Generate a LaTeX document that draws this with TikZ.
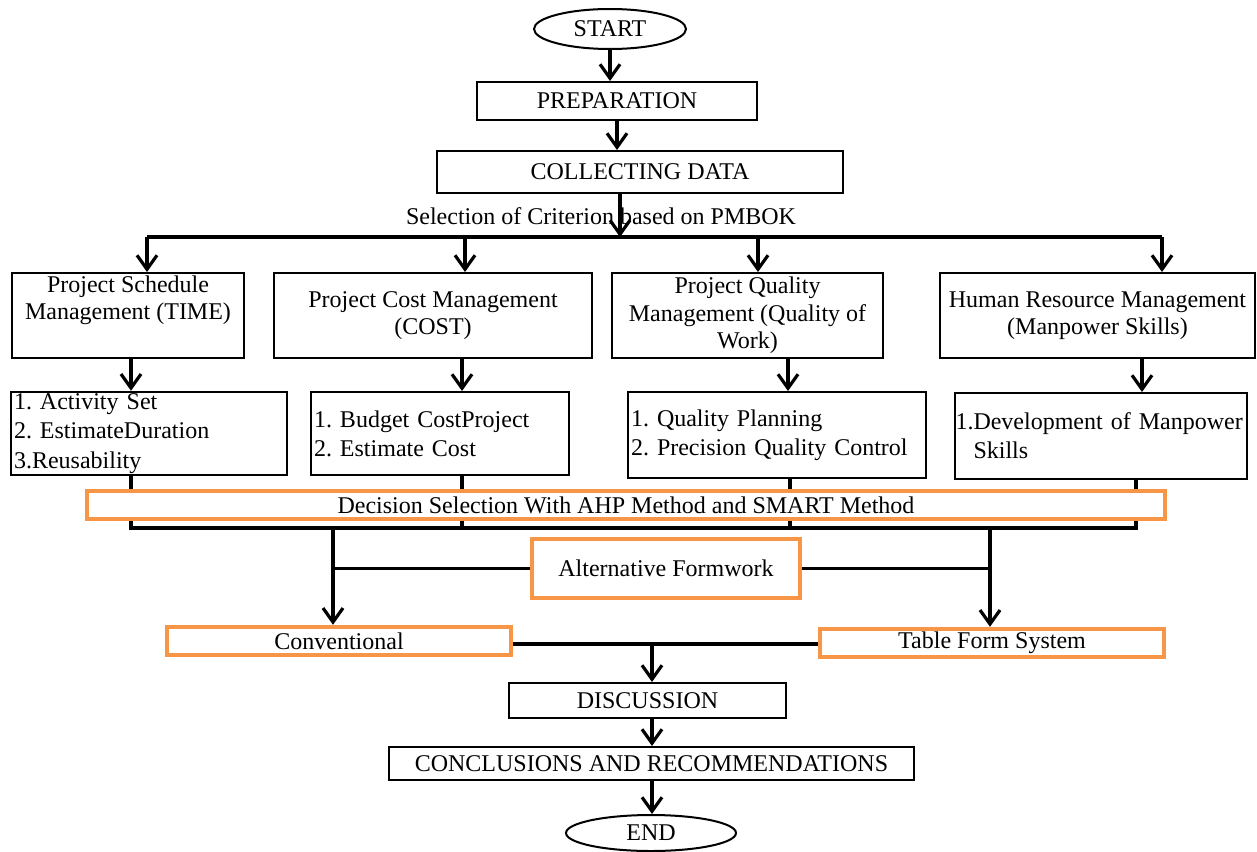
\documentclass[tikz,border=0pt]{standalone}
\usepackage{fontspec}
\setmainfont{Liberation Serif}
\usetikzlibrary{arrows.meta,shapes.geometric,calc}
\definecolor{orng}{HTML}{F79646}
\frenchspacing
\hyphenpenalty=10000
\exhyphenpenalty=10000
\begin{document}
\begin{tikzpicture}[x=0.5pt,y=-0.5pt,
  txt/.style={font=\fontsize{12}{13.8}\selectfont},
  subtxt/.style={font=\fontsize{12}{14.6}\selectfont},
  box/.style={txt,draw,line width=1pt,rectangle,inner sep=1pt,align=center},
  subbox/.style={subtxt,draw,line width=1pt,rectangle,inner xsep=1.5pt,inner ysep=1pt,align=left},
  obox/.style={txt,draw=orng,line width=2.2pt,fill=white,rectangle,inner sep=1pt,align=center},
  oval/.style={txt,draw,line width=1pt,ellipse,inner sep=0pt},
  conn/.style={line width=1.6pt},
  arr/.style={conn,-{Straight Barb[length=7pt,width=10pt]}}]
\useasboundingbox (0,0) rectangle (1257,851);

% top flow
\node[oval,minimum width=76pt,minimum height=20pt] (start) at (610,29) {START};
\node[box,minimum width=140pt,minimum height=19pt] (prep) at (617,101) {PREPARATION};
\node[box,minimum width=203pt,minimum height=21pt] (collect) at (640,172) {COLLECTING DATA};
\node[txt,inner sep=0pt] (sel) at (601,216) {Selection of Criterion based on PMBOK};

\coordinate (busL) at (147,237);
\coordinate (busC) at (620,237);
\coordinate (bus2) at (465,237);
\coordinate (bus3) at (758,237);
\coordinate (busR) at (1162,237);

% criteria boxes
\node[box,minimum width=116pt,minimum height=42.5pt] (sched) at (128,315.5) {Project Schedule\\Management (TIME)\\\strut};
\node[box,minimum width=159pt,minimum height=42.5pt] (cost) at (433,315.5) {Project Cost Management\\(COST)};
\node[box,minimum width=135.5pt,minimum height=42.5pt] (qual) at (747.5,315.5) {Project Quality\\Management (Quality of\\Work)};
\node[box,minimum width=157.5pt,minimum height=42.5pt] (hr) at (1097.5,315.5) {Human Resource Management\\(Manpower Skills)};

% sub boxes
\node[subbox,text width=135pt,minimum height=41.5pt] (s1) at (149,433.5) {\raisebox{-2pt}{1. Activity Set}\\\raisebox{-2pt}{2. EstimateDuration}\\\raisebox{-2pt}{3.Reusability}};
\node[subbox,text width=126pt,minimum height=41.5pt] (s2) at (440,433.5) {1. Budget CostProject\\2. Estimate Cost};
\node[subbox,text width=146pt,minimum height=43pt] (s3) at (777,435) {1. Quality Planning\\2. Precision Quality Control};
\node[subbox,text width=145pt,inner xsep=0.5pt,minimum height=43pt] (s4) at (1100.5,436) {1.Development of Manpower\\\phantom{1.}Skills};

\draw[arr] (start.south) -- (start.south |- prep.north);
\draw[arr] (prep.south) -- (prep.south |- collect.north);
\draw[arr] (collect.south -| busC) -- (busC);
\draw[conn] (busL) -- (busR);
\draw[arr] (busL) -- (busL |- sched.north);
\draw[arr] (bus2) -- (bus2 |- cost.north);
\draw[arr] (bus3) -- (bus3 |- qual.north);
\draw[arr] (busR) -- (busR |- hr.north);

\coordinate (a1) at (131,0);
\coordinate (a2) at (462,0);
\coordinate (a3) at (788,0);
\coordinate (a4) at (1142,0);
\draw[arr] (sched.south -| a1) -- (s1.north -| a1);
\draw[arr] (cost.south -| a2) -- (s2.north -| a2);
\draw[arr] (qual.south -| a3) -- (s3.north -| a3);
\draw[arr] (hr.south -| a4) -- (s4.north -| a4);

% collecting line below sub boxes
\coordinate (c1) at (131,528);
\coordinate (c2) at (462,528);
\coordinate (c3) at (790,528);
\coordinate (c4) at (1136,528);
\draw[conn] (s1.south -| c1) -- (c1);
\draw[conn] (s2.south -| c2) -- (c2);
\draw[conn] (s3.south -| c3) -- (c3);
\draw[conn] (s4.south -| c4) -- (c4);
\draw[conn] ([xshift=-0.8pt]c1) -- ([xshift=0.8pt]c4);

\node[obox,minimum width=539pt,minimum height=14pt] (dec) at (626,505) {Decision Selection With AHP Method and SMART Method};

% alternatives
\node[obox,minimum width=134pt,minimum height=29.5pt] (alt) at (666,568.5) {Alternative Formwork};
\node[obox,minimum width=172pt,minimum height=14pt] (conv) at (339,641) {Conventional};
\node[obox,minimum width=172pt,minimum height=14pt] (table) at (992,643) {Table Form System};

\coordinate (jL) at (333,528);
\coordinate (jR) at (990,528);
\draw[arr] (jL) -- (jL |- conv.north);
\draw[arr] (jR) -- (jR |- table.north);
\draw[conn] (alt.west) -- (alt.west -| jL);
\draw[conn] (alt.east) -- (alt.east -| jR);

% bottom flow
\node[box,minimum width=138.5pt,minimum height=17.5pt] (disc) at (647.5,700.5) {DISCUSSION};
\node[box,minimum width=262.5pt,minimum height=16.5pt] (concl) at (651.5,763.5) {CONCLUSIONS AND RECOMMENDATIONS};
\node[oval,minimum width=85pt,minimum height=18pt] (end) at (651,833) {END};

\coordinate (mj) at (652,644);
\draw[conn] (conv.east |- mj) -- (table.west |- mj);
\draw[arr] (mj) -- (mj |- disc.north);
\draw[arr] (disc.south -| mj) -- (concl.north -| mj);
\draw[arr] (concl.south -| mj) -- (end.north -| mj);
\end{tikzpicture}
\end{document}
